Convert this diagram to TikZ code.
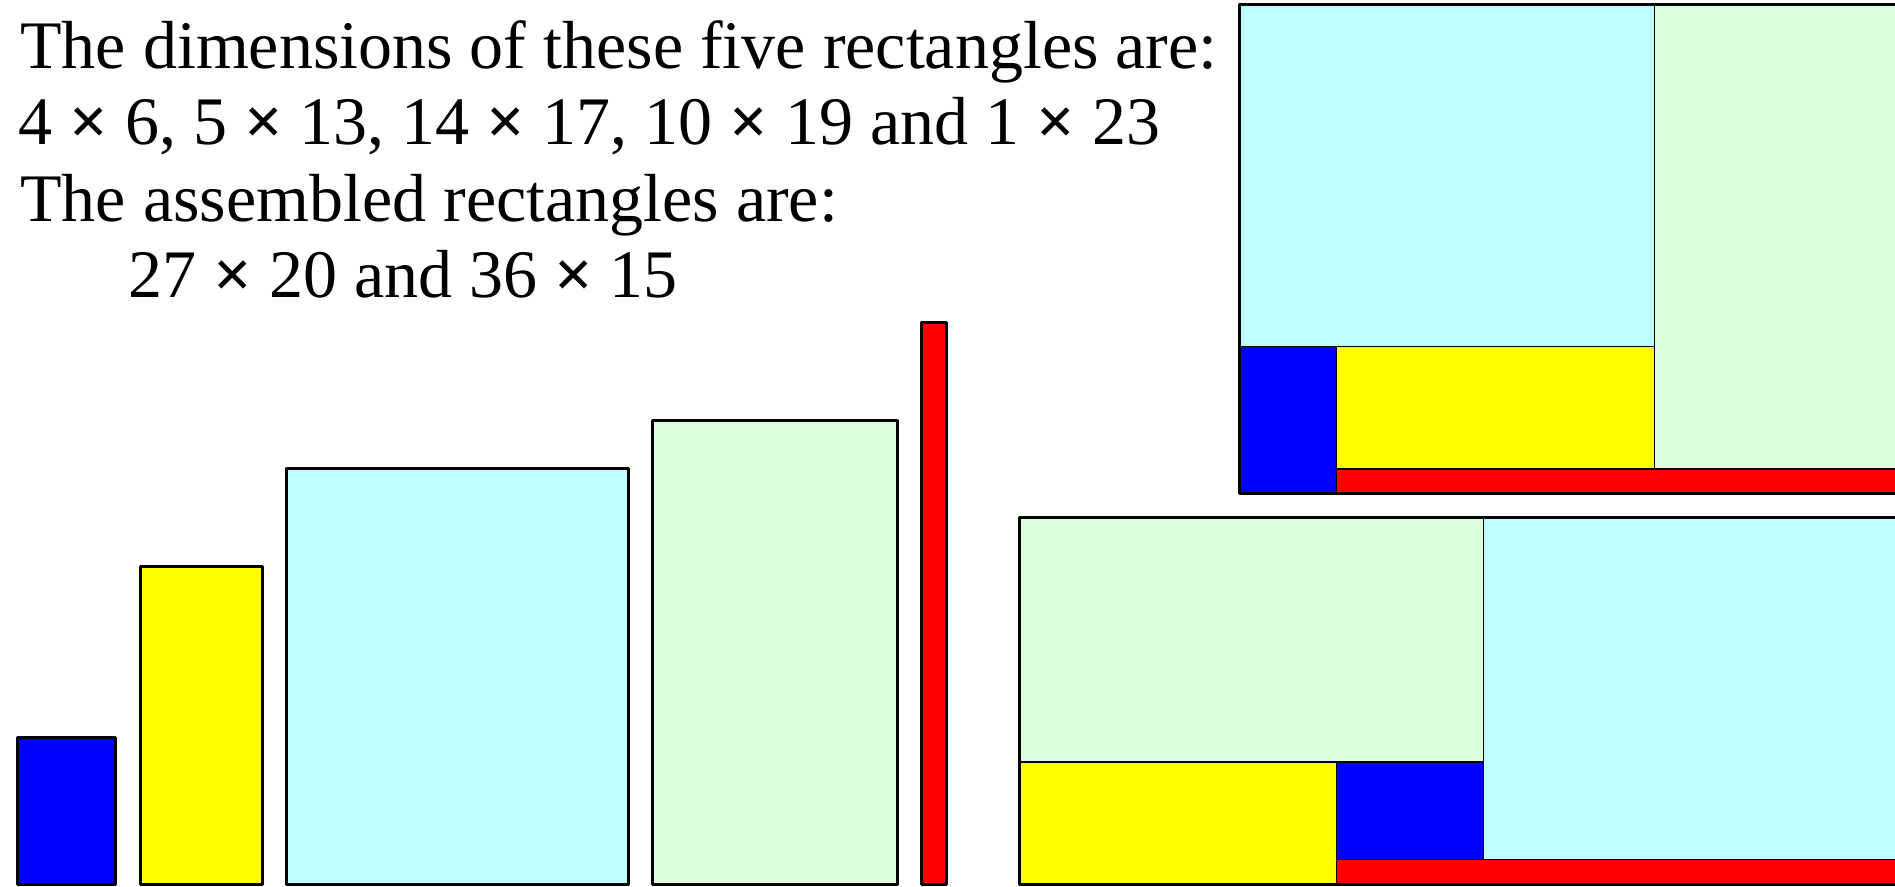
\documentclass[tikz,border=0pt]{standalone}
\usepackage{fontspec}
\setmainfont{Liberation Serif}
\newcommand{\tms}{\textbf{×}}
\definecolor{pblue}{RGB}{0,0,255}
\definecolor{pyellow}{RGB}{255,255,0}
\definecolor{pcyan}{RGB}{192,255,255}
\definecolor{pgreen}{RGB}{221,255,221}
\definecolor{pred}{RGB}{255,0,0}
\tikzset{
  piece/.style={draw=black, line width=1.5pt, line join=round},
  inner/.style={draw=black, line width=0.7pt},
  outer/.style={draw=black, line width=1.5pt, line join=round},
  txt/.style={anchor=base west, inner sep=0pt, font=\fontsize{34pt}{38pt}\selectfont}
}
\begin{document}
\begin{tikzpicture}[x=12.21pt, y=12.21pt]
\useasboundingbox (-0.737,-0.082) rectangle (76.86,36.2);
% text
\node[txt] (t1) at (0.08,33.40) {The dimensions of these five rectangles are:};
\node[txt] (t2) at (0.0,30.28) {4 \tms{} 6, 5 \tms{} 13, 14 \tms{} 17, 10 \tms{} 19 and 1 \tms{} 23};
\node[txt] (t3) at (0.08,27.13) {The assembled rectangles are:};
\node[txt] (t4) at (4.5,24.02) {27 \tms{} 20 and 36 \tms{} 15};
% separate rectangles
\path[piece, fill=pblue] (0,0) rectangle (4,6);
\path[piece, fill=pyellow] (5,0) rectangle (10,13);
\path[piece, fill=pcyan] (11,0) rectangle (25,17);
\path[piece, fill=pgreen] (26,0) rectangle (36,19);
\path[piece, fill=pred] (37,0) rectangle (38,23);
% assembled 27 x 20
\path[inner, fill=pcyan] (50,22) rectangle (67,36);
\path[inner, fill=pgreen] (67,17) rectangle (77,36);
\path[inner, fill=pblue] (50,16) rectangle (54,22);
\path[inner, fill=pyellow] (54,17) rectangle (67,22);
\path[inner, fill=pred] (54,16) rectangle (77,17);
\draw[outer] (50,16) rectangle (77,36);
% assembled 36 x 15
\path[inner, fill=pgreen] (41,5) rectangle (60,15);
\path[inner, fill=pcyan] (60,1) rectangle (77,15);
\path[inner, fill=pyellow] (41,0) rectangle (54,5);
\path[inner, fill=pblue] (54,1) rectangle (60,5);
\path[inner, fill=pred] (54,0) rectangle (77,1);
\draw[outer] (41,0) rectangle (77,15);
\end{tikzpicture}
\end{document}
